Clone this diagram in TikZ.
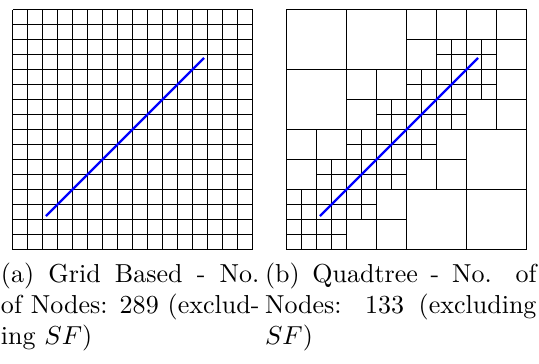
\documentclass[tikz,border=0pt]{standalone}
\tikzset{
  gridline/.style={line width=0.3846pt, draw=black},
  blueline/.style={line width=0.9pt, draw=blue},
  capline/.style={inner sep=0pt, outer sep=0pt, anchor=base west}
}
\begin{document}
\begin{tikzpicture}[x=0.3846pt, y=-0.3846pt]
\useasboundingbox (0,0) rectangle (539,363);
% (a) uniform grid
\begin{scope}[shift={(12.5,249.5)}, xscale=15, yscale=-15]
  \foreach \i in {0,...,16} {
    \draw[gridline] (\i,0) -- (\i,16);
    \draw[gridline] (0,\i) -- (16,\i);
  }
  \coordinate (as) at (2.23,2.23);
  \coordinate (ae) at (12.77,12.77);
  \draw[blueline] (as) -- (ae);
\end{scope}
% (b) quadtree
\begin{scope}[shift={(286.5,249.5)}, xscale=15, yscale=-15]
  \draw[gridline] (0,0) rectangle (16,16);
  \foreach \x/\y in {0/12,4/12,0/8,12/4,8/0,12/0}
    \draw[gridline] (\x,\y) rectangle ++(4,4);
  \foreach \x/\y in {4/10,6/10,4/8,8/14,10/14,8/12,12/14,14/14,14/12,14/10,12/8,14/8,0/6,2/6,0/4,6/2,4/0,6/0,10/6,8/4,10/4}
    \draw[gridline] (\x,\y) rectangle ++(2,2);
  \foreach \x/\y in {6/8,10/12,12/12,8/10,10/10,8/8,10/8,12/10,2/4,4/6,6/6,4/4,6/4,0/2,2/2,0/0,2/0,4/2,8/6}
    \draw[gridline] (\x,\y) rectangle ++(2,2) (\x+1,\y) -- ++(0,2) (\x,\y+1) -- ++(2,0);
  \coordinate (bs) at (2.23,2.23);
  \coordinate (be) at (12.77,12.77);
  \draw[blueline] (bs) -- (be);
\end{scope}
% captions
\node[capline] (ca1) at (1,282) {\makebox[99.4pt][s]{(a) Grid Based - No.}};
\node[capline] (ca2) at (1,313.5) {\makebox[99.4pt][s]{of Nodes: 289 (exclud-}};
\node[capline] (ca3) at (1,344.8) {ing $SF$)};
\node[capline] (cb1) at (265,282) {\makebox[104.4pt][s]{(b) Quadtree - No. of}};
\node[capline] (cb2) at (265,313.5) {\makebox[104.4pt][s]{Nodes: 133 (excluding}};
\node[capline] (cb3) at (265,344.8) {$SF$)};
\end{tikzpicture}
\end{document}
